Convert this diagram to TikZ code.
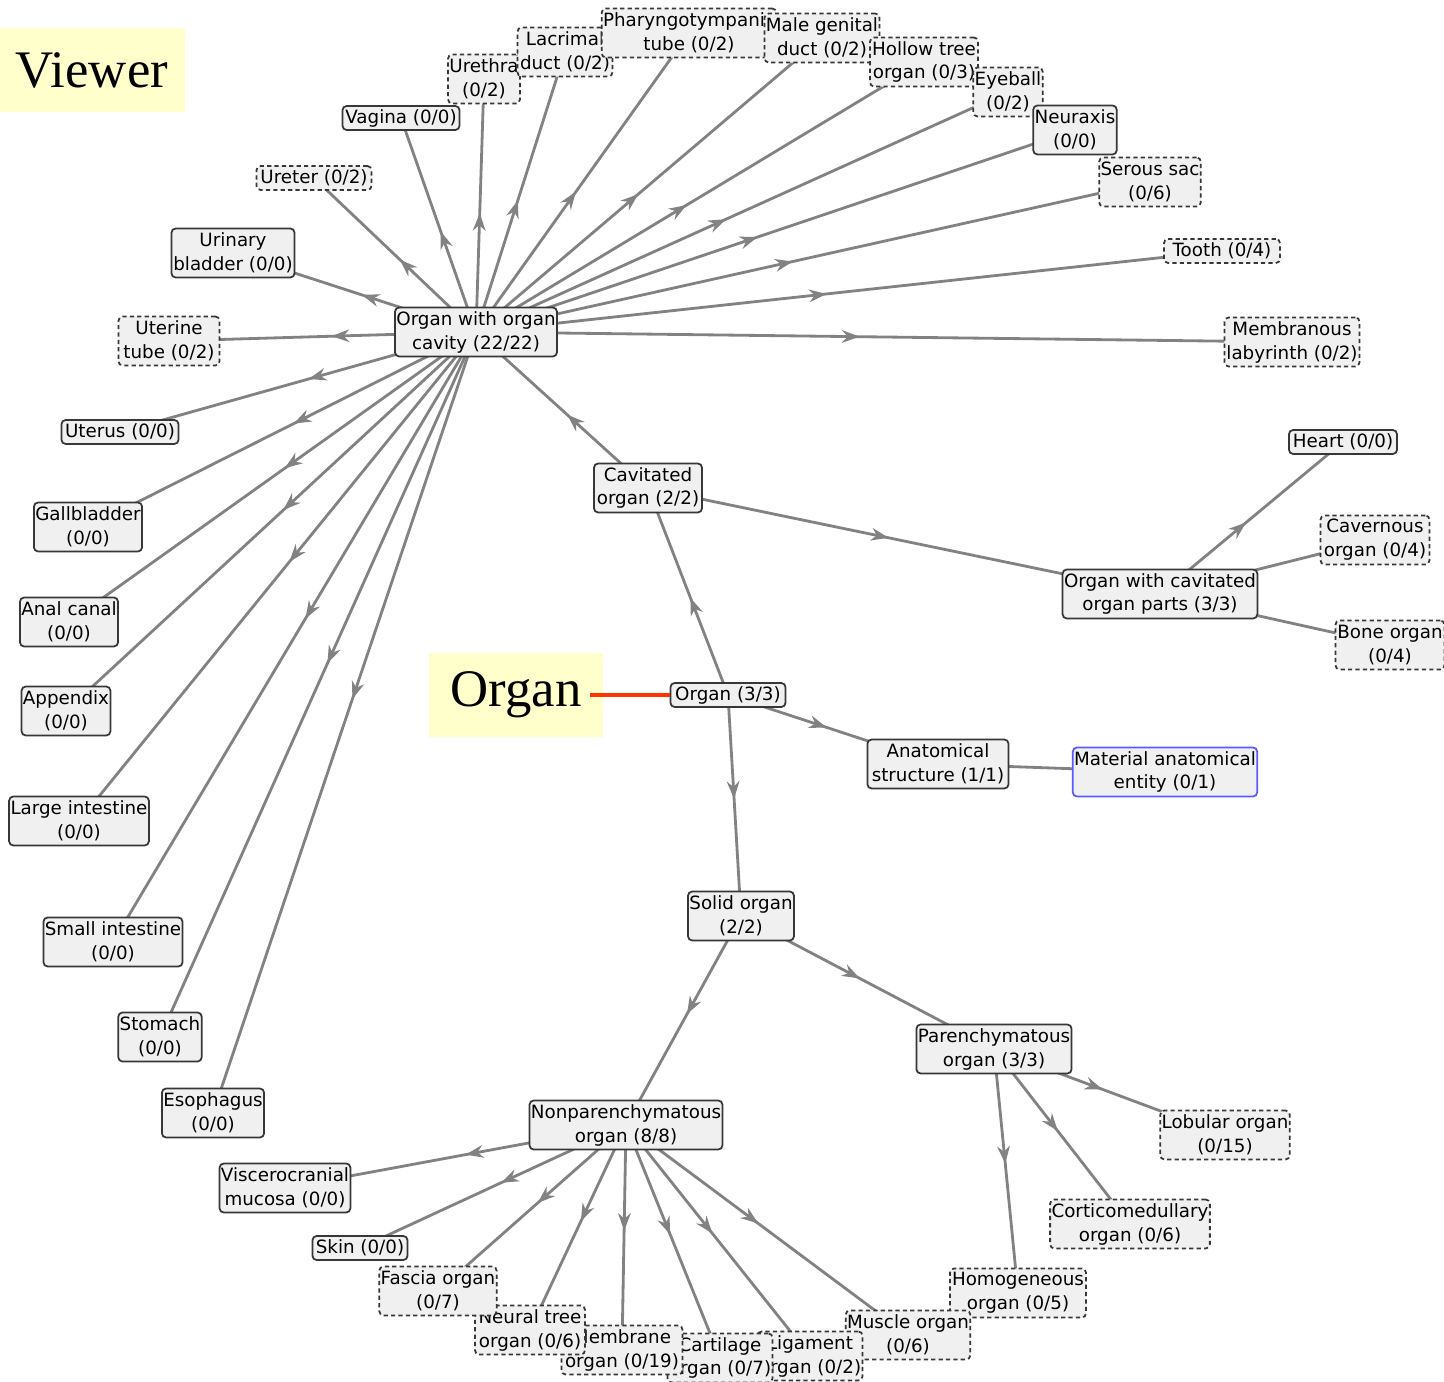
\documentclass[tikz,border=0pt]{standalone}
\usepackage{fontspec}
\usetikzlibrary{arrows.meta,decorations.markings,backgrounds}
\newfontfamily\uifont{DejaVu Sans}
\newfontfamily\tagfont{Liberation Serif}
\definecolor{boxfill}{RGB}{240,240,240}
\definecolor{boxline}{RGB}{55,55,55}
\definecolor{linkgray}{RGB}{130,130,130}
\definecolor{tagyellow}{RGB}{255,255,204}
\definecolor{focusred}{RGB}{255,51,0}
\definecolor{pickblue}{RGB}{90,90,255}

\begin{document}
\begin{tikzpicture}[x=0.01cm,y=-0.01cm,
  solidbox/.style={draw=boxline,fill=boxfill,rounded corners=1.2pt,line width=0.5pt,inner xsep=0.4pt,inner ysep=0pt,minimum height=0.24cm,align=center,font=\uifont\fontsize{5.2}{6.8}\selectfont},
  openbox/.style={solidbox,dash pattern=on 1.2pt off 0.9pt},
  two/.style={minimum height=0.49cm},
  tagbox/.style={fill=tagyellow,inner sep=0pt,minimum height=0.83cm,font=\tagfont\fontsize{15}{18}\selectfont},
  link/.style={color=linkgray,line width=0.8pt,postaction={decorate,decoration={markings,mark=at position 0.47 with {\arrow{Stealth[length=5pt,width=3.6pt]}}}}},
  bare/.style={color=linkgray,line width=0.8pt}
]
\useasboundingbox (0,0) rectangle (1444,1382);

\node[tagbox,minimum width=1.85cm] (viewer) at (92,70) {Viewer};
\node[tagbox,minimum width=1.73cm] (orglabel) at (516,695) {Organ};

% hub with its parts
\node[solidbox,two,minimum width=1.60cm] (cavity) at (476,332) {Organ with organ\\cavity (22/22)};
\node[openbox,minimum width=1.15cm] (ureter) at (314,178) {Ureter (0/2)};
\node[solidbox,minimum width=1.17cm] (vagina) at (401,118) {Vagina (0/0)};
\node[openbox,two,minimum width=0.70cm] (urethra) at (484,79) {Urethra\\(0/2)};
\node[openbox,two,minimum width=0.95cm] (lacrimal) at (565,52) {Lacrimal\\duct (0/2)};
\node[openbox,two,minimum width=1.64cm] (pharyngo) at (689,33) {Pharyngotympanic\\tube (0/2)};
\node[openbox,two,minimum width=1.08cm] (malegen) at (822,38) {Male genital\\duct (0/2)};
\node[openbox,two,minimum width=1.08cm] (hollow) at (924,62) {Hollow tree\\organ (0/3)};
\node[openbox,two,minimum width=0.65cm] (eyeball) at (1008,92) {Eyeball\\(0/2)};
\node[solidbox,two,minimum width=0.80cm] (neuraxis) at (1075,130) {Neuraxis\\(0/0)};
\node[openbox,two,minimum width=1.01cm] (serous) at (1150,182) {Serous sac\\(0/6)};
\node[openbox,minimum width=1.16cm] (tooth) at (1222,251) {Tooth (0/4)};
\node[openbox,two,minimum width=1.35cm] (labyrinth) at (1292,342) {Membranous\\labyrinth (0/2)};
\node[solidbox,two,minimum width=1.23cm] (bladder) at (233,253) {Urinary\\bladder (0/0)};
\node[openbox,two,minimum width=1.01cm] (utube) at (169,341) {Uterine\\tube (0/2)};
\node[solidbox,minimum width=1.17cm] (uterus) at (120,432) {Uterus (0/0)};
\node[solidbox,two,minimum width=0.98cm] (gall) at (88,527) {Gallbladder\\(0/0)};
\node[solidbox,two,minimum width=0.91cm] (anal) at (69,622) {Anal canal\\(0/0)};
\node[solidbox,two,minimum width=0.88cm] (appendix) at (66,711) {Appendix\\(0/0)};
\node[solidbox,two,minimum width=1.36cm] (largeint) at (79,821) {Large intestine\\(0/0)};
\node[solidbox,two,minimum width=1.29cm] (smallint) at (113,942) {Small intestine\\(0/0)};
\node[solidbox,two,minimum width=0.82cm] (stomach) at (160,1037) {Stomach\\(0/0)};
\node[solidbox,two,minimum width=0.99cm] (esophagus) at (213,1113) {Esophagus\\(0/0)};

% upper right branch
\node[solidbox,two,minimum width=1.08cm] (cavitated) at (648,488) {Cavitated\\organ (2/2)};
\node[solidbox,two,minimum width=1.92cm] (parts) at (1160,594) {Organ with cavitated\\organ parts (3/3)};
\node[solidbox,minimum width=1.08cm] (heart) at (1343,442) {Heart (0/0)};
\node[openbox,two,minimum width=1.09cm] (cavernous) at (1375,540) {Cavernous\\organ (0/4)};
\node[openbox,two,minimum width=1.09cm] (bone) at (1390,645) {Bone organ\\(0/4)};

% focus
\node[solidbox,minimum width=1.15cm] (organ) at (728,695) {Organ (3/3)};
\node[solidbox,two,minimum width=1.41cm] (anat) at (938,764) {Anatomical\\structure (1/1)};
\node[solidbox,two,draw=pickblue,minimum width=1.71cm] (material) at (1165,772) {Material anatomical\\entity (0/1)};

% lower branch
\node[solidbox,two,minimum width=1.03cm] (solid) at (741,916) {Solid organ\\(2/2)};
\node[solidbox,two,minimum width=1.50cm] (paren) at (994,1049) {Parenchymatous\\organ (3/3)};
\node[solidbox,two,minimum width=1.87cm] (nonparen) at (626,1125) {Nonparenchymatous\\organ (8/8)};
\node[openbox,two,minimum width=1.26cm] (lobular) at (1225,1135) {Lobular organ\\(0/15)};
\node[openbox,two,minimum width=1.51cm] (cortico) at (1130,1224) {Corticomedullary\\organ (0/6)};
\node[openbox,two,minimum width=1.36cm] (homog) at (1018,1293) {Homogeneous\\organ (0/5)};
\node[openbox,two,minimum width=1.20cm] (muscle) at (908,1335) {Muscle organ\\(0/6)};
\node[openbox,two,minimum width=1.05cm] (ligament) at (810,1356) {Ligament\\organ (0/2)};
\node[openbox,two,minimum width=1.04cm] (cartilage) at (720,1358) {Cartilage\\organ (0/7)};
\node[openbox,two,minimum width=1.21cm] (membrane) at (622,1350) {Membrane\\organ (0/19)};
\node[openbox,two,minimum width=1.10cm] (neural) at (530,1330) {Neural tree\\organ (0/6)};
\node[openbox,two,minimum width=1.12cm] (fascia) at (438,1291) {Fascia organ\\(0/7)};
\node[solidbox,minimum width=0.95cm] (skin) at (360,1248) {Skin (0/0)};
\node[solidbox,two,minimum width=1.25cm] (viscero) at (285,1188) {Viscerocranial\\mucosa (0/0)};

\draw[focusred,line width=1.1pt,shorten <=-0.13cm] (orglabel.east) -- (organ.west);

\begin{scope}[on background layer]
\draw[link] (organ.center) -- (cavitated.center);
\draw[link] (organ.center) -- (anat.center);
\draw[link] (organ.center) -- (solid.center);
\draw[bare] (anat.center) -- (material.center);
\draw[link] (cavitated.center) -- (cavity.center);
\draw[link] (cavitated.center) -- (parts.center);
\draw[link] (parts.center) -- (heart.center);
\draw[bare] (parts.center) -- (cavernous.center);
\draw[bare] (parts.center) -- (bone.center);
\draw[link] (cavity.center) -- (ureter.center);
\draw[link] (cavity.center) -- (vagina.center);
\draw[link] (cavity.center) -- (urethra.center);
\draw[link] (cavity.center) -- (lacrimal.center);
\draw[link] (cavity.center) -- (pharyngo.center);
\draw[link] (cavity.center) -- (malegen.center);
\draw[link] (cavity.center) -- (hollow.center);
\draw[link] (cavity.center) -- (eyeball.center);
\draw[link] (cavity.center) -- (neuraxis.center);
\draw[link] (cavity.center) -- (serous.center);
\draw[link] (cavity.center) -- (tooth.center);
\draw[link] (cavity.center) -- (labyrinth.center);
\draw[link] (cavity.center) -- (bladder.center);
\draw[link] (cavity.center) -- (utube.center);
\draw[link] (cavity.center) -- (uterus.center);
\draw[link] (cavity.center) -- (gall.center);
\draw[link] (cavity.center) -- (anal.center);
\draw[link] (cavity.center) -- (appendix.center);
\draw[link] (cavity.center) -- (largeint.center);
\draw[link] (cavity.center) -- (smallint.center);
\draw[link] (cavity.center) -- (stomach.center);
\draw[link] (cavity.center) -- (esophagus.center);
\draw[link] (solid.center) -- (paren.center);
\draw[link] (solid.center) -- (nonparen.center);
\draw[link] (paren.center) -- (lobular.center);
\draw[link] (paren.center) -- (cortico.center);
\draw[link] (paren.center) -- (homog.center);
\draw[link] (nonparen.center) -- (viscero.center);
\draw[link] (nonparen.center) -- (skin.center);
\draw[link] (nonparen.center) -- (fascia.center);
\draw[link] (nonparen.center) -- (neural.center);
\draw[link] (nonparen.center) -- (membrane.center);
\draw[link] (nonparen.center) -- (cartilage.center);
\draw[link] (nonparen.center) -- (ligament.center);
\draw[link] (nonparen.center) -- (muscle.center);
\end{scope}
\end{tikzpicture}
\end{document}
